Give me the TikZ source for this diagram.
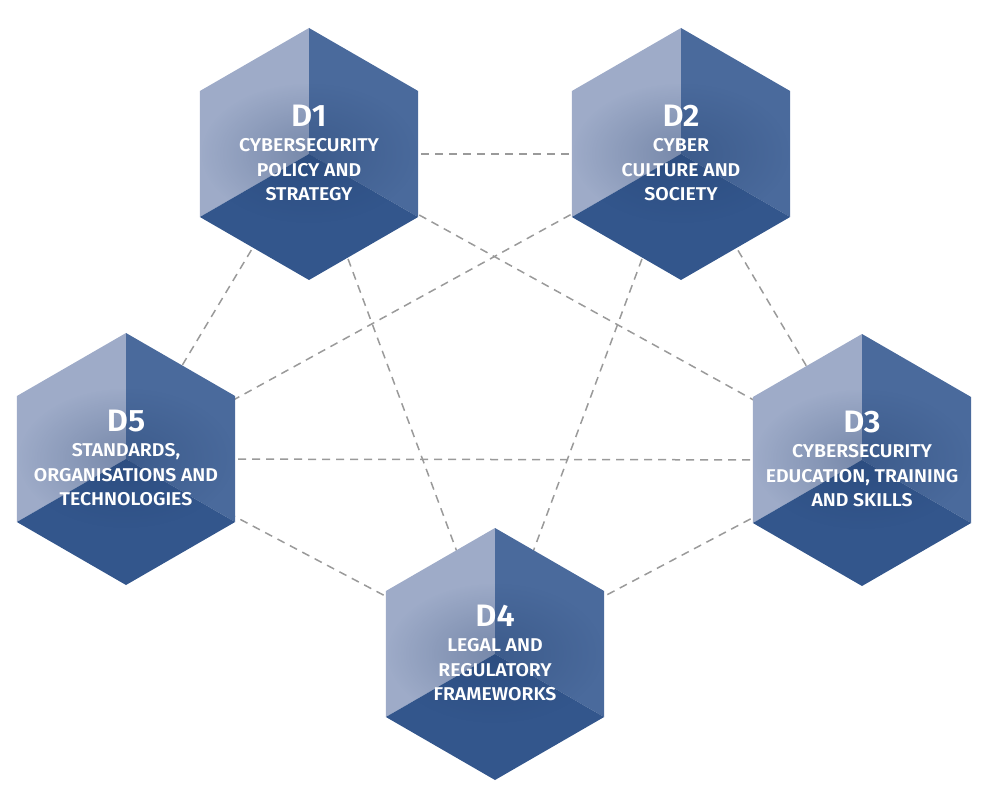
\documentclass[tikz,border=0pt]{standalone}
\usepackage{fontspec}
\setmainfont{Fira Sans}[BoldFont={Fira Sans SemiBold}, FakeStretch=1.05]
\usetikzlibrary{calc,fadings}
\tikzfading[name=softglow, inner color=transparent!0, outer color=transparent!100]
\definecolor{faceL}{HTML}{9EABC8}
\definecolor{faceR}{HTML}{4A6A9C}
\definecolor{faceB}{HTML}{33568C}
\definecolor{glow}{HTML}{1E3A66}
\definecolor{linkgray}{HTML}{9A9A9A}
\tikzset{
  link/.style={draw=linkgray, line width=1.5pt, dash pattern=on 8pt off 6pt},
  lface/.style={fill=faceL, draw=none},
  rface/.style={fill=faceR, draw=none},
  bface/.style={fill=faceB, draw=none},
  hextext/.style={text=white, align=center, font=\bfseries\fontsize{18.5}{24.5}\selectfont, inner sep=0pt},
  halo/.style={fill=glow, opacity=0.3, path fading=softglow},
}
\newcommand\hexcube[1]{%
  \fill[lface] ($(#1)+(0,126)$) -- ($(#1)+(-109.1,63)$) -- ($(#1)+(-109.1,-63)$) -- (#1) -- cycle;
  \fill[rface] ($(#1)+(0,126)$) -- ($(#1)+(109.1,63)$) -- ($(#1)+(109.1,-63)$) -- (#1) -- cycle;
  \fill[bface] ($(#1)+(-109.1,-63)$) -- (#1) -- ($(#1)+(109.1,-63)$) -- ($(#1)+(0,-126)$) -- cycle;
}
\newcommand\hexlabel[3]{%
  \fill[halo] ($(#1)+(0,1)$) ellipse (108 and 70);
  \node[hextext] (#1t) at ($(#1)+(0,1)$) {{\fontsize{31}{31}\selectfont #2}\\[1pt]#3};
}
\begin{document}
\begin{tikzpicture}[x=1pt,y=1pt]
\useasboundingbox (0,0) rectangle (1000,-810);
\coordinate (d1) at (309,-154);
\coordinate (d2) at (681,-154);
\coordinate (d3) at (862,-460);
\coordinate (d4) at (495,-654);
\coordinate (d5) at (126,-459);
\foreach \p/\q in {d1/d2,d1/d3,d1/d4,d1/d5,d2/d3,d2/d4,d2/d5,d3/d4,d3/d5,d4/d5}
  \draw[link] (\p) -- (\q);
\hexcube{d1}\hexcube{d2}\hexcube{d3}\hexcube{d4}\hexcube{d5}
\hexlabel{d1}{D1}{CYBERSECURITY\\POLICY AND\\STRATEGY}
\hexlabel{d2}{D2}{CYBER\\CULTURE AND\\SOCIETY}
\hexlabel{d3}{D3}{CYBERSECURITY\\EDUCATION, TRAINING\\AND SKILLS}
\hexlabel{d4}{D4}{LEGAL AND\\REGULATORY\\FRAMEWORKS}
\hexlabel{d5}{D5}{STANDARDS,\\ORGANISATIONS AND\\TECHNOLOGIES}
\end{tikzpicture}
\end{document}
